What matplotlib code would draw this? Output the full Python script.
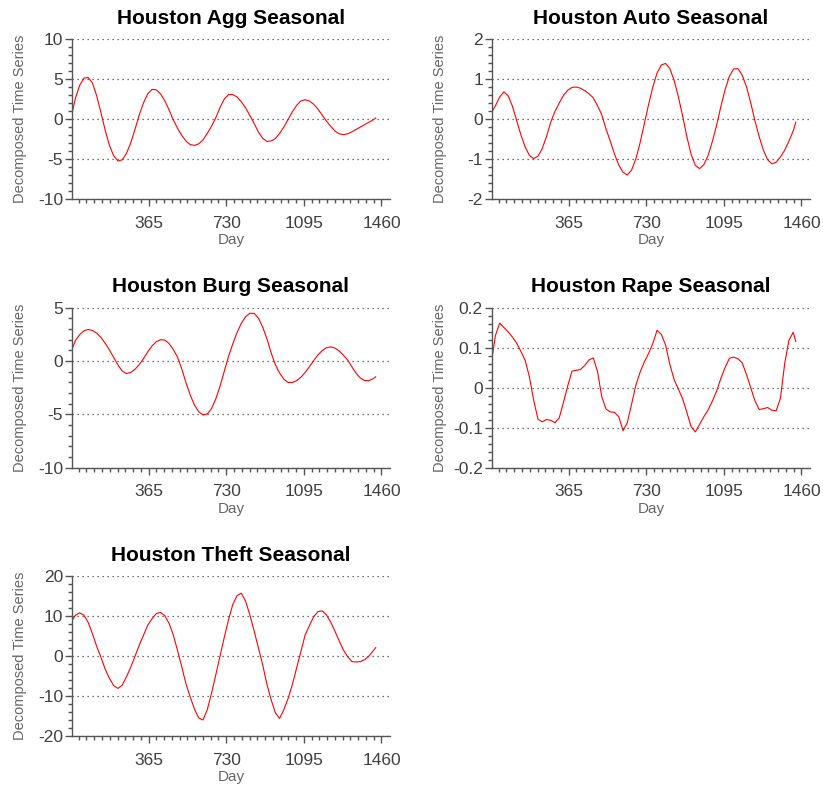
import numpy as np
import matplotlib.pyplot as plt
from matplotlib.ticker import FixedLocator, FuncFormatter

plt.rcParams['font.family'] = ['Liberation Sans', 'DejaVu Sans']

# day index of each sample of the seasonal components
day = [7] + list(range(21, 1422, 20)) + [1433]

agg = [0.9, 2.6, 4.2, 5.1, 5.2, 4.5, 2.9, 0.8, -1.4, -3.3,
       -4.6, -5.25, -5.1, -4.3, -3.0, -1.3, 0.5, 2.0, 3.15, 3.7,
       3.65, 3.15, 2.3, 1.15, -0.1, -1.15, -2.05, -2.75, -3.2, -3.3,
       -3.1, -2.6, -1.8, -0.9, 0.15, 1.45, 2.5, 3.05, 3.05, 2.75,
       2.15, 1.4, 0.45, -0.55, -1.6, -2.4, -2.8, -2.75, -2.45, -1.8,
       -1.0, -0.05, 0.9, 1.7, 2.25, 2.4, 2.25, 1.85, 1.25, 0.5,
       -0.25, -0.9, -1.5, -1.85, -1.95, -1.85, -1.6, -1.3, -1.0, -0.7,
       -0.4, -0.1, 0.12]

auto = [0.2, 0.33, 0.55, 0.68, 0.58, 0.32, -0.04, -0.40, -0.70, -0.91,
        -0.99, -0.93, -0.74, -0.44, -0.08, 0.19, 0.40, 0.59, 0.72, 0.79,
        0.80, 0.77, 0.71, 0.63, 0.53, 0.33, 0.11, -0.25, -0.55, -0.88,
        -1.15, -1.33, -1.40, -1.28, -1.00, -0.60, -0.12, 0.36, 0.80, 1.15,
        1.35, 1.39, 1.26, 0.97, 0.56, 0.08, -0.44, -0.88, -1.16, -1.24,
        -1.14, -0.91, -0.56, -0.15, 0.31, 0.74, 1.07, 1.25, 1.26, 1.10,
        0.81, 0.41, -0.04, -0.44, -0.78, -1.02, -1.12, -1.08, -0.95, -0.78,
        -0.55, -0.30, -0.08]

burg = [1.2, 1.9, 2.45, 2.82, 2.94, 2.85, 2.60, 2.19, 1.65, 1.02,
        0.32, -0.39, -0.96, -1.19, -1.09, -0.80, -0.35, 0.20, 0.84, 1.39,
        1.79, 1.98, 1.95, 1.63, 1.07, 0.35, -0.75, -2.06, -3.22, -4.15,
        -4.78, -5.07, -4.98, -4.47, -3.57, -2.37, -0.97, 0.42, 1.60, 2.66,
        3.52, 4.14, 4.46, 4.45, 4.02, 3.20, 2.09, 0.77, -0.37, -1.14,
        -1.72, -2.03, -2.03, -1.86, -1.54, -1.09, -0.55, 0.02, 0.54, 0.96,
        1.23, 1.31, 1.20, 0.93, 0.53, 0.07, -0.57, -1.17, -1.62, -1.85,
        -1.85, -1.68, -1.50]

rape = [0.079, 0.13, 0.161, 0.150, 0.139, 0.126, 0.111, 0.090, 0.068, 0.026,
        -0.032, -0.079, -0.086, -0.080, -0.082, -0.088, -0.076, -0.037, 0.004, 0.041,
        0.043, 0.045, 0.055, 0.069, 0.074, 0.040, -0.023, -0.054, -0.061, -0.062,
        -0.073, -0.108, -0.088, -0.042, 0.005, 0.038, 0.064, 0.085, 0.110, 0.143,
        0.133, 0.106, 0.058, 0.020, -0.004, -0.028, -0.062, -0.098, -0.111, -0.092,
        -0.073, -0.056, -0.034, -0.009, 0.023, 0.050, 0.073, 0.076, 0.072, 0.062,
        0.033, 0.000, -0.033, -0.055, -0.053, -0.050, -0.057, -0.058, -0.027, 0.060,
        0.118, 0.138, 0.115]

theft = [9.0, 10.2, 10.8, 10.2, 8.4, 5.6, 2.4, -0.3, -3.3, -5.6,
         -7.4, -8.1, -7.3, -5.2, -2.8, -0.1, 2.7, 5.2, 7.7, 9.3,
         10.6, 10.9, 10.1, 8.2, 5.3, 1.4, -2.7, -7.0, -10.3, -13.3,
         -15.5, -16.0, -13.4, -9.3, -4.7, 0.0, 4.7, 9.1, 12.9, 15.1,
         15.7, 13.7, 10.3, 6.3, 2.1, -2.1, -7.0, -10.9, -14.2, -15.6,
         -13.4, -10.6, -7.1, -3.0, 1.1, 5.25, 7.6, 9.8, 11.1, 11.3,
         10.3, 8.5, 6.2, 3.8, 1.5, -0.2, -1.4, -1.5, -1.4, -0.9,
         0.0, 1.3, 2.1]

day_ticks = [365, 730, 1095, 1460]
day_minor = [36.5 * k for k in range(1, 41)]

axis_col = '#555555'
text_col = '#404040'


def draw_panel(rect, title, values, lo, hi, major, minor):
    ax = fig.add_axes(rect)
    ax.plot(day, values, color='red', lw=0.8)
    ax.set_xlim(5, 1500)
    ax.set_ylim(lo, hi)

    ax.xaxis.set_major_locator(FixedLocator(day_ticks))
    ax.xaxis.set_minor_locator(FixedLocator(day_minor))
    ax.yaxis.set_major_locator(FixedLocator(np.arange(lo, hi + major / 2, major)))
    ax.yaxis.set_minor_locator(FixedLocator(np.arange(lo, hi + minor / 2, minor)))
    ax.yaxis.set_major_formatter(FuncFormatter(lambda v, p: '%g' % round(v, 4)))

    for s in ['top', 'right']:
        ax.spines[s].set_visible(False)
    for s in ['left', 'bottom']:
        ax.spines[s].set_color(axis_col)
        ax.spines[s].set_linewidth(1.0)

    ax.tick_params(axis='both', which='major', length=5, width=1, color=axis_col,
                   labelsize=12.5, labelcolor=text_col)
    ax.tick_params(axis='both', which='minor', length=3, width=1, color=axis_col)
    ax.tick_params(axis='y', which='major', pad=1.5)
    ax.tick_params(axis='x', which='major', pad=7)

    ax.yaxis.grid(True, which='major', color='#444444', lw=0.9, linestyle=(0, (1, 3)))
    ax.set_axisbelow(True)

    ax.set_title(title, fontsize=15, fontweight='bold', pad=11)
    ax.set_ylabel('Decomposed Time Series', fontsize=10.5, color='#666666')
    ax.set_xlabel('Day', fontsize=11, color='#666666')
    ax.yaxis.set_label_coords(-0.14, 0.5)
    ax.xaxis.set_label_coords(0.5, -0.215)
    return ax


fig = plt.figure(figsize=(8.23, 7.87), dpi=100)

w, h = 318 / 823, 160 / 787
left1, left2 = 72 / 823, 492 / 823
rows = [(787 - 199) / 787, (787 - 467.5) / 787, (787 - 736) / 787]

draw_panel([left1, rows[0], w, h], 'Houston Agg Seasonal', agg, -10, 10, 5, 1)
draw_panel([left2, rows[0], w, h], 'Houston Auto Seasonal', auto, -2, 2, 1, 0.2)
draw_panel([left1, rows[1], w, h], 'Houston Burg Seasonal', burg, -10, 5, 5, 1)
draw_panel([left2, rows[1], w, h], 'Houston Rape Seasonal', rape, -0.2, 0.2, 0.1, 0.02)
draw_panel([left1, rows[2], w, h], 'Houston Theft Seasonal', theft, -20, 20, 10, 2)

fig.savefig('out.png', dpi=100)
